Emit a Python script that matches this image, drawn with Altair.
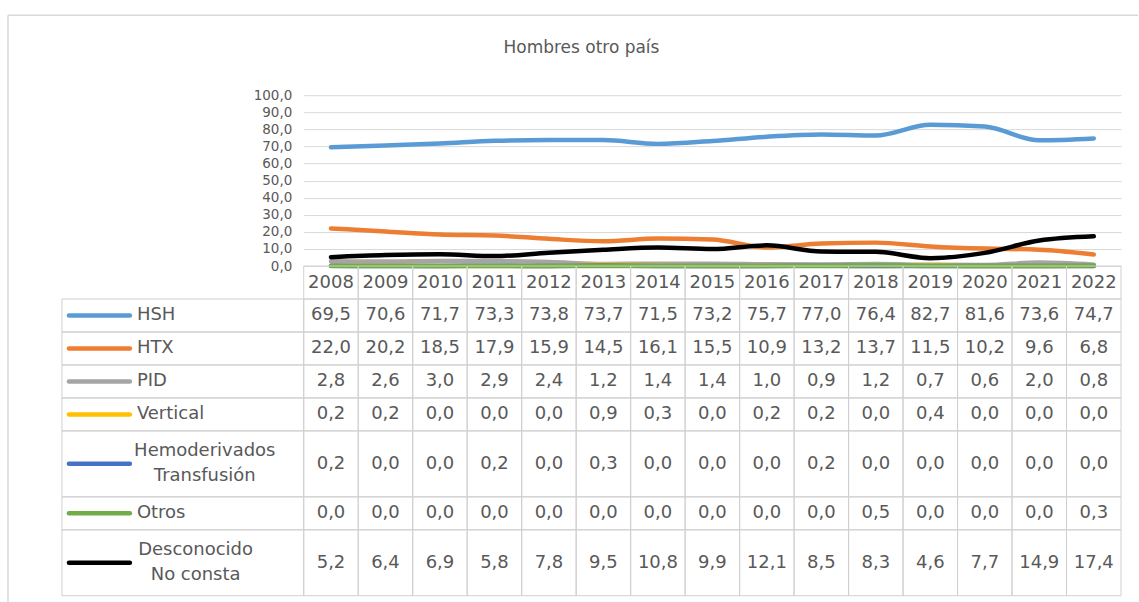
import altair as alt
import pandas as pd

# ---------------- data ----------------
years = ["2008", "2009", "2010", "2011", "2012", "2013", "2014", "2015",
         "2016", "2017", "2018", "2019", "2020", "2021", "2022"]

series = ["HSH", "HTX", "PID", "Vertical", "Hemoderivados Transfusión",
          "Otros", "Desconocido No consta"]
label_lines = [["HSH"], ["HTX"], ["PID"], ["Vertical"],
               ["Hemoderivados", "Transfusión"], ["Otros"],
               ["Desconocido", "No consta"]]

hsh = [69.5, 70.6, 71.7, 73.3, 73.8, 73.7, 71.5, 73.2, 75.7, 77.0, 76.4, 82.7, 81.6, 73.6, 74.7]
htx = [22.0, 20.2, 18.5, 17.9, 15.9, 14.5, 16.1, 15.5, 10.9, 13.2, 13.7, 11.5, 10.2, 9.6, 6.8]
pid = [2.8, 2.6, 3.0, 2.9, 2.4, 1.2, 1.4, 1.4, 1.0, 0.9, 1.2, 0.7, 0.6, 2.0, 0.8]
vertical = [0.2, 0.2, 0.0, 0.0, 0.0, 0.9, 0.3, 0.0, 0.2, 0.2, 0.0, 0.4, 0.0, 0.0, 0.0]
hemo = [0.2, 0.0, 0.0, 0.2, 0.0, 0.3, 0.0, 0.0, 0.0, 0.2, 0.0, 0.0, 0.0, 0.0, 0.0]
otros = [0.0, 0.0, 0.0, 0.0, 0.0, 0.0, 0.0, 0.0, 0.0, 0.0, 0.5, 0.0, 0.0, 0.0, 0.3]
desconocido = [5.2, 6.4, 6.9, 5.8, 7.8, 9.5, 10.8, 9.9, 12.1, 8.5, 8.3, 4.6, 7.7, 14.9, 17.4]

values = [hsh, htx, pid, vertical, hemo, otros, desconocido]
colors = ["#5B9BD5", "#ED7D31", "#A5A5A5", "#FFC000", "#4472C4", "#70AD47", "#000000"]

y_ticks = [0, 10, 20, 30, 40, 50, 60, 70, 80, 90, 100]
title_text = "Hombres otro país"

# ---------------- styles ----------------
FONT = "DejaVu Sans"
TXT = "#595959"
GRID = "#d9d9d9"
BORDER = "#d0d0d0"
PLOT_W = 818
PLOT_H = 171
TABLE_H = 330
TABLE_FS = 18
LINE_H = 25


def fmt(v):
    return f"{v:.1f}".replace(".", ",")


# long table for the lines
rows = []
for s, vals in zip(series, values):
    for y, v in zip(years, vals):
        rows.append({"series": s, "year": y, "value": v})
line_df = pd.DataFrame(rows)

color_scale = alt.Scale(domain=series, range=colors)
x_line = alt.X("year:N", sort=years, scale=alt.Scale(type="point", padding=0.5), axis=None)
y_line = alt.Y(
    "value:Q",
    scale=alt.Scale(domain=[0, 100], nice=False),
    axis=alt.Axis(values=y_ticks, labelExpr="replace(format(datum.value,'.1f'),'.',',')",
                  grid=True, gridColor=GRID, domain=False, ticks=False,
                  labelColor=TXT, labelFontSize=13.5, labelFont=FONT,
                  labelPadding=12, title=None),
)

line_layers = []
for s in series:
    line_layers.append(
        alt.Chart(line_df).transform_filter(alt.datum.series == s)
        .mark_line(strokeWidth=4.5, interpolate="monotone", strokeCap="round", strokeJoin="round")
        .encode(x=x_line, y=y_line,
                color=alt.Color("series:N", scale=color_scale, legend=None))
    )

one = pd.DataFrame({"t": [title_text]})
frame_top = alt.Chart(one).mark_rule(color=GRID, strokeWidth=1.5).encode(
    x=alt.value(-296), x2=alt.value(835), y=alt.value(-80))
frame_left = alt.Chart(one).mark_rule(color=GRID, strokeWidth=1.5).encode(
    x=alt.value(-296), y=alt.value(-80), y2=alt.value(507))
title_mark = alt.Chart(one).mark_text(font=FONT, fontSize=17, color=TXT, align="center",
                                      baseline="middle").encode(
    text="t:N", x=alt.value(278), y=alt.value(-47))

top = alt.layer(*line_layers, frame_top, frame_left, title_mark).properties(
    width=PLOT_W, height=PLOT_H)

# ---------------- data table ----------------
cell_rows = []
legend_rows = []
pos = 1  # header row occupies one unit
for i, (s, lines, vals) in enumerate(zip(series, label_lines, values)):
    n = len(lines)
    top_u, bot_u = pos, pos + n
    legend_rows.append({"series": s, "top": top_u, "bot": bot_u,
                        "mid": (top_u + bot_u) / 2, "lines": lines, "n": n})
    for y, v in zip(years, vals):
        cell_rows.append({"series": s, "year": y, "top": top_u, "bot": bot_u,
                          "mid": (top_u + bot_u) / 2, "label": fmt(v)})
    pos = bot_u
total_units = pos
for y in years:
    cell_rows.append({"series": "header", "year": y, "top": 0, "bot": 1,
                      "mid": 0.5, "label": y})
cell_df = pd.DataFrame(cell_rows)
legend_df = pd.DataFrame(legend_rows)

x_tab = alt.X("year:N", sort=years,
              scale=alt.Scale(type="band", paddingInner=0, paddingOuter=0), axis=None)
y_scale = alt.Scale(domain=[0, total_units], reverse=True, nice=False, zero=False)

cells = alt.Chart(cell_df).mark_rect(fillOpacity=0, stroke=BORDER, strokeWidth=1).encode(
    x=x_tab, y=alt.Y("top:Q", scale=y_scale, axis=None), y2="bot:Q")
cell_text = alt.Chart(cell_df).mark_text(font=FONT, fontSize=TABLE_FS, color=TXT,
                                         align="center", baseline="middle").encode(
    x=x_tab, y=alt.Y("mid:Q", scale=y_scale, axis=None), text="label:N")

leg_box = alt.Chart(legend_df).mark_rect(fillOpacity=0, stroke=BORDER, strokeWidth=1).encode(
    x=alt.value(-242), x2=alt.value(0),
    y=alt.Y("top:Q", scale=y_scale, axis=None), y2="bot:Q")
leg_sym = alt.Chart(legend_df).mark_rule(strokeWidth=4.5, strokeCap="round").encode(
    x=alt.value(-235), x2=alt.value(-174),
    y=alt.Y("mid:Q", scale=y_scale, axis=None),
    color=alt.Color("series:N", scale=color_scale, legend=None))


def approx_width(txt, size):
    w = 0.0
    for ch in txt:
        if ch in "il íj":
            w += 0.30
        elif ch in "rtf":
            w += 0.41
        elif ch.isupper():
            w += 0.74
        else:
            w += 0.61
    return w * size


leg_text_layers = []
for r in legend_rows:
    sub = pd.DataFrame([r])
    if r["n"] == 1:
        mk = alt.Chart(sub).mark_text(font=FONT, fontSize=TABLE_FS, color=TXT,
                                      align="left", baseline="middle")
        xv = -167
    else:
        mk = alt.Chart(sub).mark_text(font=FONT, fontSize=TABLE_FS, color=TXT,
                                      align="center", baseline="middle", lineHeight=LINE_H,
                                      dy=-(r["n"] - 1) * LINE_H / 2)
        xv = -167 + max(approx_width(t, TABLE_FS) for t in r["lines"]) / 2
    leg_text_layers.append(mk.encode(x=alt.value(xv),
                                     y=alt.Y("mid:Q", scale=y_scale, axis=None),
                                     text="lines"))

bottom = alt.layer(cells, cell_text, leg_box, leg_sym, *leg_text_layers).properties(
    width=PLOT_W, height=TABLE_H)

chart = alt.vconcat(top, bottom, spacing=0, bounds="flush").properties(
    padding={"left": 7, "top": 14, "right": 0, "bottom": 0},
    background="white",
).configure_view(stroke=None)

chart.save("out.html", embed_options={"renderer": "svg", "actions": False})
